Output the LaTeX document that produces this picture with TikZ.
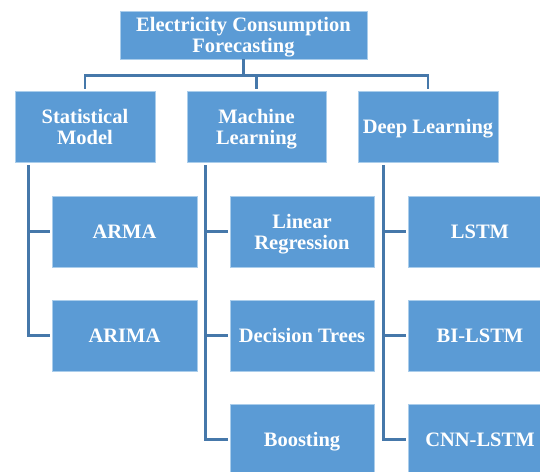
\documentclass[tikz,border=0pt]{standalone}
\usepackage{fontspec}
\setmainfont{Liberation Serif}
\definecolor{boxfill}{RGB}{91,155,213}
\definecolor{boxline}{RGB}{170,205,235}
\definecolor{conn}{RGB}{70,120,170}
\newcommand{\nd}[1]{\raisebox{0pt}[\height][0pt]{#1}}
\tikzset{
  box/.style={rectangle, fill=boxfill, draw=boxline, line width=0.8pt, text=white,
    font=\bfseries\fontsize{20.5}{21}\selectfont, align=center, inner sep=2pt,
    minimum width=#1, minimum height=71pt},
  box/.default=144pt,
  link/.style={draw=conn, line width=2.6pt},
}
\begin{document}
\begin{tikzpicture}[x=1pt,y=-1pt]
\clip (0,0) rectangle (540,471);
\node[box=247pt, minimum height=48pt] (root) at (243.5,35) {Electricity Consumption\\\nd{Forecasting}};
\node[box=140pt] (stat) at (85,126.5) {Statistical\\Model};
\node[box=139pt] (ml) at (256.5,126.5) {Machine\\\nd{Learning}};
\node[box=140pt] (dl) at (428,126.5) {\nd{Deep Learning}};
\node[box=145pt] (arma) at (124.5,231.5) {ARMA};
\node[box=145pt] (arima) at (124.5,335.5) {ARIMA};
\node[box] (lr) at (302,231.5) {Linear\\\nd{Regression}};
\node[box] (dt) at (302,335.5) {Decision Trees};
\node[box] (boost) at (302,439.5) {\nd{Boosting}};
\node[box] (lstm) at (480,231.5) {LSTM};
\node[box] (bilstm) at (480,335.5) {BI-LSTM};
\node[box] (cnn) at (480,439.5) {CNN-LSTM};
% top level connectors
\draw[link] (root.south) -- ++(0,16) coordinate (bar) -| ([yshift=2pt]stat.north);
\draw[link] (bar) -| ([yshift=2pt]ml.north);
\draw[link] (bar) -| ([yshift=2pt]dl.north);
% rails
\coordinate (sr) at ([xshift=14pt,yshift=-3pt]stat.south west);
\coordinate (mr) at ([xshift=19pt,yshift=-3pt]ml.south west);
\coordinate (dr) at ([xshift=26pt,yshift=-3pt]dl.south west);
\draw[link, shorten >=2pt] (sr) |- (arma.west);
\draw[link, shorten >=2pt] (sr) |- (arima.west);
\draw[link, shorten >=2pt] (mr) |- (lr.west);
\draw[link, shorten >=2pt] (mr) |- (dt.west);
\draw[link, shorten >=2pt] (mr) |- (boost.west);
\draw[link, shorten >=2pt] (dr) |- (lstm.west);
\draw[link, shorten >=2pt] (dr) |- (bilstm.west);
\draw[link, shorten >=2pt] (dr) |- (cnn.west);
\end{tikzpicture}
\end{document}
